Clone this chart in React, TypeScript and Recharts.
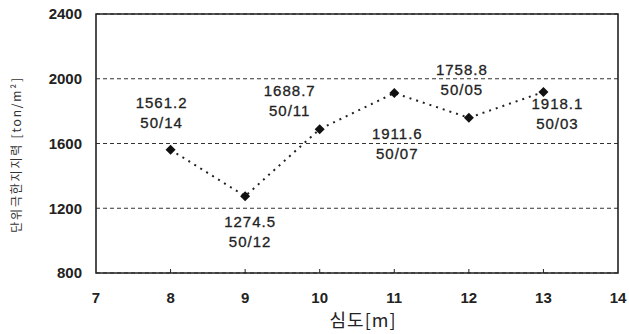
import {
  CartesianGrid,
  Line,
  LineChart,
  ReferenceArea,
  XAxis,
  YAxis,
} from "recharts";

const depths = [8, 9, 10, 11, 12, 13];
const capacity = [1561.2, 1274.5, 1688.7, 1911.6, 1758.8, 1918.1];
const blows = ["50/14", "50/12", "50/11", "50/07", "50/05", "50/03"];
const xTicks = [7, 8, 9, 10, 11, 12, 13, 14];
const yTicks = [800, 1200, 1600, 2000, 2400];

// where each two-line label sits relative to its marker (first line baseline)
const labelOffsets = [
  { dx: -9, dy: -42 },
  { dx: 5, dy: 31 },
  { dx: -30, dy: -33 },
  { dx: 3, dy: 46 },
  { dx: -7, dy: -43 },
  { dx: 14, dy: 17 },
];

const data = depths.map((d, i) => ({
  depth: d,
  value: capacity[i],
  blow: blows[i],
}));

const FONT = "'Liberation Sans', Arial, sans-serif";
const KFONT = "'Noto Sans CJK KR', sans-serif";

function Diamond(props: any) {
  const { cx, cy } = props;
  if (cx == null || cy == null) return null;
  const r = 5;
  return (
    <polygon
      points={`${cx},${cy - r} ${cx + r},${cy} ${cx},${cy + r} ${cx - r},${cy}`}
      fill="#111"
    />
  );
}

function PointLabel(props: any) {
  const { x, y, index } = props;
  const off = labelOffsets[index];
  const tx = x + off.dx;
  const ty = y + off.dy;
  return (
    <text
      x={tx}
      y={ty}
      textAnchor="middle"
      fontFamily={FONT}
      fontSize={15}
      letterSpacing={1}
      fill="#222"
      stroke="#222"
      strokeWidth={0.3}
    >
      <tspan x={tx} dy={0}>
        {capacity[index].toFixed(1)}
      </tspan>
      <tspan x={tx} dy={20}>
        {blows[index]}
      </tspan>
    </text>
  );
}

function XTick(props: any) {
  const { x, y, payload } = props;
  const axisY = y - 19;
  return (
    <g>
      {payload.value > 7 && payload.value < 14 && (
        <line x1={x} x2={x} y1={axisY} y2={axisY - 4} stroke="#222" strokeWidth={1} />
      )}
      <text
        x={x}
        y={y}
        dy="0.71em"
        textAnchor="middle"
        fontFamily={FONT}
        fontWeight="bold"
        fontSize={15}
        fill="#222"
      >
        {payload.value}
      </text>
    </g>
  );
}

function YTitle(props: any) {
  const { viewBox } = props;
  const cx = viewBox.x + 15;
  const cy = viewBox.y + viewBox.height / 2 + 11;
  return (
    <text
      x={cx}
      y={cy}
      transform={`rotate(-90, ${cx}, ${cy})`}
      textAnchor="middle"
      dominantBaseline="central"
      fontFamily={KFONT}
      fontSize={12}
      letterSpacing={1.8}
      fill="#333"
    >
      단위극한지지력 [ton/m²]
    </text>
  );
}

function XTitle(props: any) {
  const { viewBox } = props;
  const cx = viewBox.x + viewBox.width / 2 + 6;
  return (
    <text
      x={cx}
      y={327}
      textAnchor="middle"
      fontFamily={KFONT}
      fontSize={18}
      letterSpacing={1}
      fill="#222"
    >
      심도[m]
    </text>
  );
}

export default function App() {
  return (
    <div style={{ position: "fixed", left: 0, top: 0, width: 629, height: 334, background: "#fff" }}>
      <LineChart
        width={629}
        height={334}
        data={data}
        margin={{ top: 14, right: 11, bottom: 31, left: 0 }}
      >
        <CartesianGrid
          vertical={false}
          stroke="#333"
          strokeDasharray="4 3"
          strokeWidth={1}
        />
        <XAxis
          dataKey="depth"
          type="number"
          domain={[7, 14]}
          ticks={xTicks}
          height={30}
          tickSize={0}
          tickMargin={19}
          tickLine={false}
          axisLine={false}
          tick={<XTick />}
          label={<XTitle />}
        />
        <YAxis
          type="number"
          domain={[800, 2400]}
          ticks={yTicks}
          width={96}
          tickLine={false}
          axisLine={false}
          tickMargin={8}
          tick={{
            fontFamily: FONT,
            fontWeight: "bold",
            fontSize: 15,
            fill: "#222",
          }}
          label={<YTitle />}
        />
        <ReferenceArea
          x1={7}
          x2={14}
          y1={800}
          y2={2400}
          fill="none"
          fillOpacity={0}
          stroke="#222"
          strokeWidth={1.6}
          ifOverflow="visible"
        />
        <Line
          dataKey="value"
          type="linear"
          stroke="#222"
          strokeWidth={2}
          strokeDasharray="2 5"
          dot={<Diamond />}
          activeDot={false}
          label={<PointLabel />}
          isAnimationActive={false}
        />
      </LineChart>
    </div>
  );
}
